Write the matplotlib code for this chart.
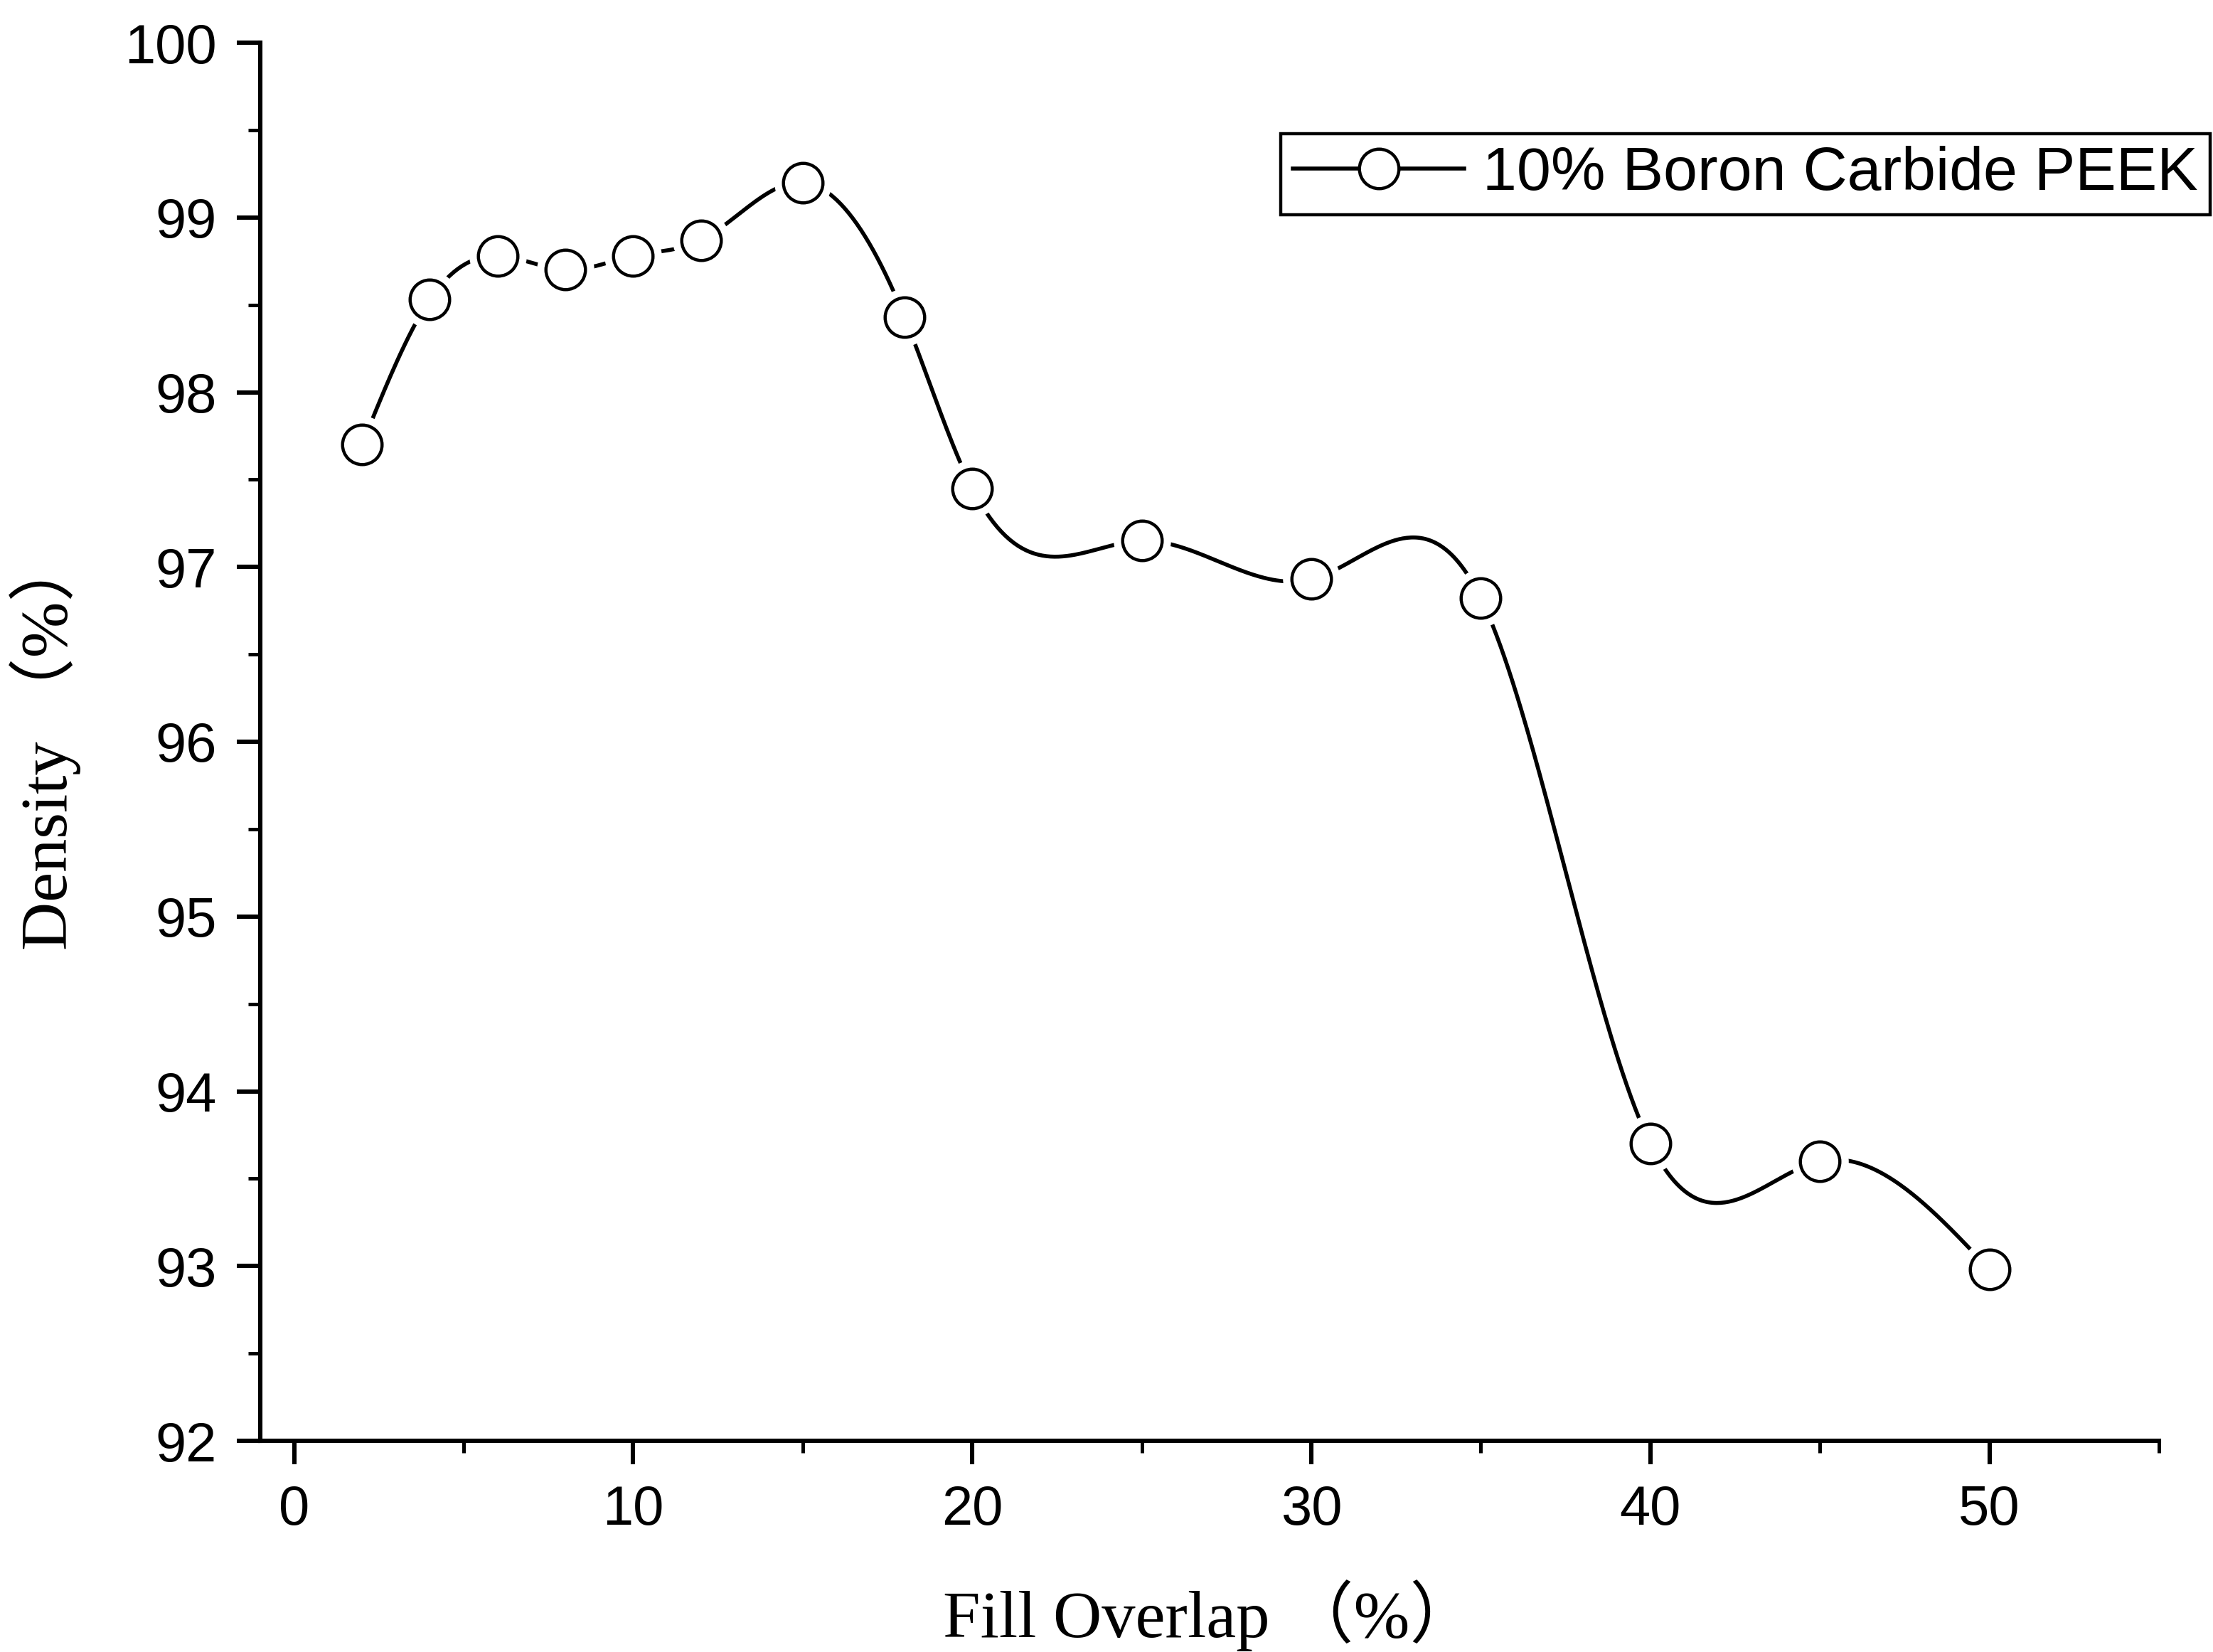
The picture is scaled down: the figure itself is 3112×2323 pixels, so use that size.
import numpy as np
import matplotlib.pyplot as plt
from matplotlib.ticker import MultipleLocator
from matplotlib.lines import Line2D

plt.rcParams.update({
    'font.family': ['Liberation Sans', 'Noto Sans CJK SC'],
    'font.size': 28,
    'axes.linewidth': 2.2,
})

fill_overlap = [2, 4, 6, 8, 10, 12, 15, 18, 20, 25, 30, 35, 40, 45, 50]
density = [97.70, 98.53, 98.78, 98.70, 98.78, 98.87, 99.20, 98.43,
           97.45, 97.15, 96.93, 96.82, 93.70, 93.60, 92.98]


def natural_spline(x, y, n=800):
    x = np.asarray(x, float)
    y = np.asarray(y, float)
    k = len(x)
    h = np.diff(x)
    A = np.zeros((k, k))
    b = np.zeros(k)
    A[0, 0] = A[-1, -1] = 1
    for i in range(1, k - 1):
        A[i, i - 1] = h[i - 1]
        A[i, i] = 2 * (h[i - 1] + h[i])
        A[i, i + 1] = h[i]
        b[i] = 3 * ((y[i + 1] - y[i]) / h[i] - (y[i] - y[i - 1]) / h[i - 1])
    c = np.linalg.solve(A, b)
    xs = np.linspace(x[0], x[-1], n)
    idx = np.clip(np.searchsorted(x, xs) - 1, 0, k - 2)
    dx = xs - x[idx]
    bb = (y[idx + 1] - y[idx]) / h[idx] - h[idx] * (2 * c[idx] + c[idx + 1]) / 3
    d = (c[idx + 1] - c[idx]) / (3 * h[idx])
    return xs, y[idx] + bb * dx + c[idx] * dx ** 2 + d * dx ** 3


fig = plt.figure(figsize=(15.56, 11.615), dpi=200)
ax = fig.add_axes([183 / 1556, 1 - 1013 / 1161.5, (1518 - 183) / 1556, (1013 - 30) / 1161.5])

xs, ys = natural_spline(fill_overlap, density)
ax.plot(xs, ys, color='black', lw=2.0, zorder=2)
# white halo around markers gives the gap seen in the original
ax.plot(fill_overlap, density, 'o', ms=28, mfc='white', mec='white', zorder=3)
ax.plot(fill_overlap, density, 'o', ms=20, mfc='white', mec='black', mew=1.6, zorder=4)

ax.set_xlim(-1, 55)
ax.set_ylim(92, 100)
ax.xaxis.set_major_locator(MultipleLocator(10))
ax.xaxis.set_minor_locator(MultipleLocator(5))
ax.yaxis.set_major_locator(MultipleLocator(1))
ax.yaxis.set_minor_locator(MultipleLocator(0.5))
ax.tick_params(which='major', direction='out', length=12, width=2.2, labelsize=28, pad=10)
ax.tick_params(which='minor', direction='out', length=6, width=1.8)
for s in ('top', 'right'):
    ax.spines[s].set_visible(False)

lab_font = dict(family=['Liberation Serif', 'Noto Sans CJK SC'], fontsize=34)
ax.set_xlabel('Fill Overlap （%）', labelpad=22, **lab_font)
ax.set_ylabel('Density （%）', labelpad=22, **lab_font)

handle = Line2D([], [], color='black', lw=2.0, marker='o', ms=20, mfc='white', mec='black', mew=1.6)
leg = ax.legend([handle], ['10% Boron Carbide PEEK'], loc='upper right',
                bbox_to_anchor=(1.027, 0.935), fontsize=31, fancybox=False,
                edgecolor='black', framealpha=1, handlelength=2.8,
                handletextpad=0.3, borderpad=0.2, borderaxespad=0)
leg.get_frame().set_linewidth(1.6)

fig.savefig('out.png', dpi=200)
